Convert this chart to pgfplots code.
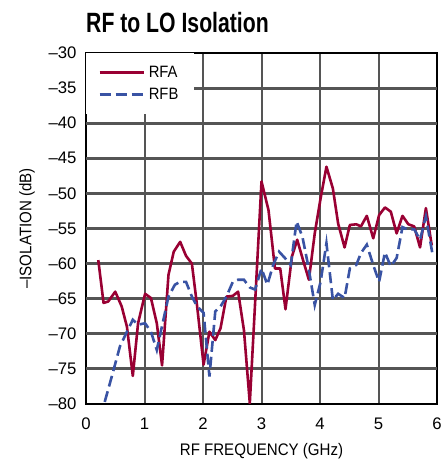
\documentclass[border=0pt]{standalone}
\usepackage{pgfplots}
\pgfplotsset{compat=1.18}
\usepackage{fontspec}
\setmainfont{Liberation Sans}[FakeStretch=0.9]
\newfontfamily\tickfont{Liberation Sans}
\newfontfamily\titlefont{Liberation Sans Bold}[FakeStretch=0.76]
\definecolor{rfa}{HTML}{990033}
\definecolor{rfb}{HTML}{3953A4}
\definecolor{gridc}{HTML}{555555}
\begin{document}
\begin{tikzpicture}
\begin{axis}[
    scale only axis,
    width=351bp, height=351bp,
    xmin=0, xmax=6, ymin=-80, ymax=-30,
    xtick={0,1,...,6},
    ytick={-80,-75,...,-30},
    yticklabels={–80,–75,–70,–65,–60,–55,–50,–45,–40,–35,–30},
    /pgf/number format/assume math mode=true,
    tick label style={font=\tickfont\fontsize{16.8}{18}\selectfont},
    xticklabel style={yshift=-10bp},
    yticklabel style={xshift=-6bp},
    tick align=inside, major tick length=5bp,
    tick style={gridc, line width=2bp},
    xmajorgrids,
    major grid style={gridc, line width=2bp},
    axis line style={black, line width=1.8bp},
    title={\titlefont RF to LO Isolation},
    title style={at={(axis description cs:0,1)}, anchor=base west, yshift=15bp, font=\fontsize{28}{30}\selectfont, inner sep=0pt},
    xlabel={RF FREQUENCY (GHz)},
    xlabel style={at={(axis description cs:0.5,0)}, anchor=base, yshift=-51bp, font=\fontsize{16.8}{18}\selectfont, inner sep=0pt},
    ylabel={–ISOLATION (dB)},
    ylabel style={at={(axis description cs:0,0.5)}, anchor=center, yshift=59bp, font=\fontsize{16.8}{18}\selectfont, inner sep=0pt},
    legend style={at={(axis description cs:0,1)}, anchor=north west, draw=none, fill=white,
        font=\fontsize{16.5}{18}\selectfont, inner xsep=12bp, inner ysep=9bp, row sep=1bp,
        nodes={inner sep=4bp}},
    legend cell align=left,
    legend image code/.code={\draw[#1] (0bp,0bp) -- (44bp,0bp);},
]
% horizontal grid lines
\pgfplotsinvokeforeach{-75,-70,...,-35}{
  \draw[gridc, line width=3bp] (axis cs:0,#1) -- (axis cs:6,#1);
}
\addplot[rfa, line width=2.6bp, line join=round] coordinates {
(0.21,-59.5) (0.30,-65.6) (0.38,-65.4) (0.50,-64.0) (0.61,-66.1) (0.70,-69.0)
(0.80,-76.0) (0.89,-68.5) (1.01,-64.3) (1.11,-64.9) (1.21,-68.5) (1.30,-74.5)
(1.41,-61.6) (1.50,-58.3) (1.61,-56.9) (1.71,-58.9) (1.81,-60.0) (1.90,-66.1)
(2.01,-74.4) (2.11,-69.7) (2.21,-70.9) (2.30,-69.2) (2.40,-64.7) (2.51,-64.6)
(2.60,-64.0) (2.70,-69.5) (2.80,-79.9) (3.00,-48.3) (3.12,-52.4) (3.23,-60.7)
(3.32,-60.7) (3.41,-66.5) (3.52,-59.0) (3.61,-56.6) (3.71,-59.5) (3.81,-62.3)
(3.91,-55.7) (4.01,-50.7) (4.11,-46.2) (4.22,-49.3) (4.31,-54.3) (4.42,-57.7)
(4.51,-54.5) (4.62,-54.4) (4.70,-54.7) (4.80,-53.2) (4.91,-56.4) (5.01,-53.1)
(5.11,-52.0) (5.21,-52.6) (5.31,-55.7) (5.41,-53.2) (5.51,-54.4) (5.61,-54.7)
(5.71,-57.7) (5.81,-52.1) (5.91,-57.4)
};
\addlegendentry{RFA}
\addplot[rfb, line width=2.6bp, dash pattern=on 11bp off 5bp] coordinates {
(0.32,-79.7) (0.44,-76.1) (0.58,-71.8) (0.70,-69.7) (0.80,-68.0) (0.89,-68.7)
(1.01,-68.5) (1.11,-69.7) (1.21,-72.3) (1.41,-64.7) (1.52,-63.0) (1.61,-62.6)
(1.71,-62.6) (1.81,-64.7) (1.90,-66.1) (2.01,-67.0) (2.11,-76.1) (2.21,-66.8)
(2.30,-66.1) (2.40,-64.7) (2.51,-62.6) (2.60,-62.3) (2.70,-62.3) (2.80,-63.4)
(2.89,-63.7) (3.00,-60.7) (3.10,-63.0) (3.20,-60.2) (3.30,-58.3) (3.40,-59.2)
(3.50,-60.2) (3.60,-54.0) (3.70,-56.2) (3.80,-60.4) (3.91,-65.9) (4.01,-62.6)
(4.11,-57.1) (4.22,-65.2) (4.31,-64.3) (4.42,-64.9) (4.51,-60.7) (4.62,-60.2)
(4.70,-58.5) (4.80,-57.3) (4.91,-60.2) (5.01,-62.6) (5.11,-58.4) (5.21,-60.4)
(5.31,-59.2) (5.41,-54.8) (5.51,-55.2) (5.61,-55.1) (5.71,-56.6) (5.81,-53.3)
(5.92,-58.5)
};
\addlegendentry{RFB}
\coordinate (bl) at (rel axis cs:0,0);
\coordinate (tr) at (rel axis cs:1,1);
\node[anchor=base east, font=\fontsize{9.5}{10}\selectfont, inner sep=0pt] at ([yshift=-66bp]rel axis cs:1,0) {5586 G51};
\end{axis}
\path ([shift={(-86bp,-69bp)}]bl) rectangle ([shift={(4bp,53bp)}]tr);
\end{tikzpicture}
\end{document}
